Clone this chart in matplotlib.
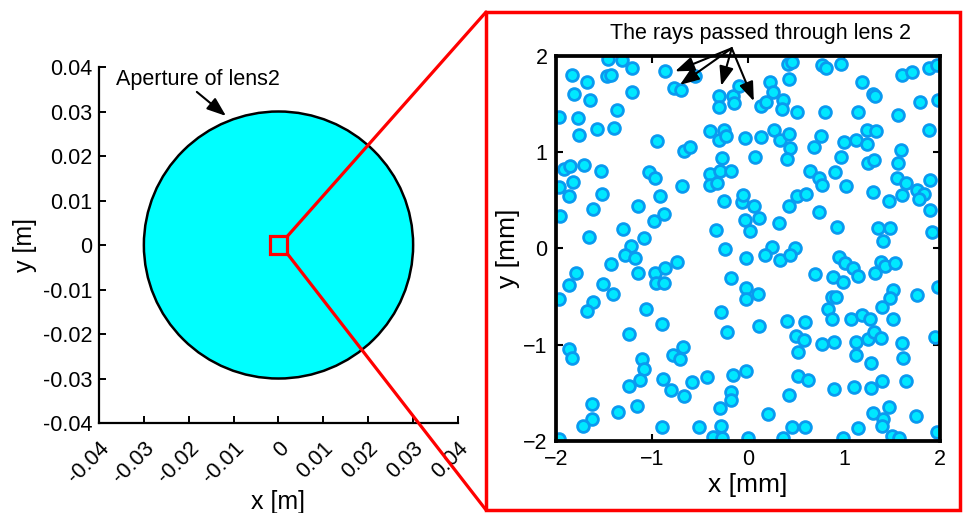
import numpy as np
import matplotlib
matplotlib.use('Agg')
import matplotlib.pyplot as plt
from matplotlib.patches import Circle, Rectangle, ConnectionPatch
from matplotlib.transforms import ScaledTranslation

plt.rcParams['font.family'] = ['Liberation Sans', 'DejaVu Sans']
plt.rcParams['font.size'] = 15.5

# lens aperture (m) and zoom window half width (mm)
aperture_radius = 0.03
zoom_half_mm = 2.0

left_ticks = [-0.04, -0.03, -0.02, -0.01, 0, 0.01, 0.02, 0.03, 0.04]
left_labels = ['-0.04', '-0.03', '-0.02', '-0.01', '0', '0.01', '0.02', '0.03', '0.04']
right_ticks = [-2, -1, 0, 1, 2]

# ray hit positions inside the zoom window (mm)
ray_x = [
    -1.46, -1.31, -1.83, -1.68, -1.47, -1.43, -1.21, -0.86, -0.77, -0.70, -0.55,
    -1.81, -1.65, -1.21, -1.36, -1.97, -1.77, -1.76, -1.57, -1.40, -0.95, -0.67,
    -0.60, -0.30, -0.30, -0.16, -0.15, -0.09, -0.40, -0.25, -0.30, -0.23, -0.03,
    -1.92, -1.85, -1.71, -1.53, -1.82, -1.97, -1.86, -1.52, -1.03, -0.97, -0.92,
    -0.69, -0.27, -0.40, -0.29, -0.18, -0.40, -0.32, -0.25, -0.06, -0.05, -1.61,
    -1.96, -1.15, -0.98, -0.88, -1.30, -1.66, -1.08, -1.22, -0.33, -0.03, -0.24,
    0.42, 0.46, 0.77, 0.81, 0.97, 0.23, 0.43, 0.26, 0.13, 0.19, 0.36, 0.35, 0.51,
    0.80, 1.15, 1.19, 1.30, 1.32, 1.60, 1.71, 1.88, 1.97, 1.79, 1.98, 1.56, 1.88,
    0.14, 0.27, 0.33, 0.43, 0.44, 0.41, 0.07, 0.76, 0.69, 1.00, 1.12, 1.24, 1.33,
    1.24, 0.97, 1.25, 1.31, 1.59, 1.56, 0.64, 0.74, 0.77, 0.91, 1.02, 1.30, 1.55,
    1.65, 1.60, 1.76, 1.83, 1.78, 1.89, 1.47, 0.06, 0.11, 0.02, 0.32, 0.51, 0.60,
    0.43, 0.74, 0.93, 1.35, 1.48, 1.41, 1.90, 1.92, 0.25, 0.49,
    -1.28, -1.18, -1.43, -1.79, -1.87, -1.97, -1.51, -1.41, -1.15, -0.97, -0.87,
    -0.96, -0.88, -0.74, -0.18, -0.02, -0.02, -0.02, -1.61, -1.68, -1.06, -0.90,
    -1.24, -0.28, -0.22, -1.87, -1.83, -1.10, -1.08, -1.13, -1.24, -0.78, -0.71,
    -0.68, -0.89, -0.80, -0.67, -0.58, -0.43, -0.16, -0.18, -0.18, -0.02, -1.63,
    -1.63, -1.72, -1.35, -1.16, -0.90, -0.51, -0.29, -0.28, -0.36, -0.27, -1.97,
    0.18, 0.33, 0.44, 0.70, 0.95, 1.01, 1.09, 1.14, 0.88, 0.99, 1.32, 1.38, 1.43,
    1.53, 0.10, 0.87, 0.92, 0.83, 0.87, 1.07, 1.19, 1.27, 1.51, 1.48, 1.40, 1.51,
    1.76, 1.98, 0.41, 0.59, 0.11, 0.50, 0.58, 0.77, 0.89, 1.12, 1.25, 1.31, 1.38,
    1.60, 1.95, 0.52, 1.12, 1.28, 1.61, 0.52, 0.62, 0.89, 1.10, 1.28, 1.39, 1.65,
    0.43, 0.21, 0.46, 0.59, 1.14, 1.30, 1.47, 1.41, 1.39, 1.75, 1.97, 0.00, 0.36,
    0.99, 1.50, 1.57,
]
ray_y = [
    1.97, 1.96, 1.80, 1.73, 1.79, 1.80, 1.87, 1.84, 1.67, 1.65, 1.79,
    1.60, 1.54, 1.63, 1.44, 1.37, 1.36, 1.18, 1.24, 1.25, 1.12, 1.01,
    1.05, 1.58, 1.47, 1.58, 1.51, 1.69, 1.22, 1.23, 1.13, 1.17, 1.15,
    0.83, 0.86, 0.87, 0.81, 0.69, 0.64, 0.55, 0.57, 0.79, 0.73, 0.54,
    0.65, 0.94, 0.77, 0.80, 0.81, 0.66, 0.68, 0.49, 0.48, 0.56, 0.41,
    0.34, 0.44, 0.29, 0.36, 0.20, 0.12, 0.11, 0.03, 0.19, 0.30, -0.01,
    1.92, 1.94, 1.91, 1.88, 1.92, 1.73, 1.76, 1.63, 1.48, 1.52, 1.54, 1.45, 1.42,
    1.42, 1.42, 1.73, 1.60, 1.58, 1.80, 1.83, 1.88, 1.91, 1.52, 1.54, 1.39, 1.23,
    1.16, 1.23, 1.13, 1.19, 1.04, 0.93, 0.95, 1.17, 1.05, 1.11, 1.13, 1.23, 1.22,
    1.09, 0.95, 0.89, 0.92, 1.02, 0.89, 0.80, 0.73, 0.66, 0.79, 0.65, 0.59, 0.73,
    0.68, 0.56, 0.61, 0.57, 0.51, 0.71, 0.49, 0.44, 0.32, 0.18, 0.26, 0.54, 0.57,
    0.44, 0.38, 0.22, 0.21, 0.21, 0.08, 0.40, 0.17, 0.02, 0.00,
    -0.07, -0.10, -0.16, -0.25, -0.38, -0.52, -0.37, -0.47, -0.26, -0.26, -0.20,
    -0.36, -0.36, -0.14, -0.31, -0.10, -0.41, -0.53, -0.56, -0.65, -0.63, -0.78,
    -0.89, -0.66, -0.87, -1.04, -1.14, -1.15, -1.25, -1.37, -1.43, -1.11, -1.15,
    -1.02, -1.36, -1.47, -1.53, -1.39, -1.34, -1.31, -1.49, -1.57, -1.27, -1.62,
    -1.77, -1.84, -1.70, -1.64, -1.85, -1.86, -1.66, -1.84, -1.96, -1.97, -1.98,
    -0.07, -0.12, -0.07, -0.27, -0.09, -0.15, -0.20, -0.29, -0.30, -0.35, -0.26, -0.14, -0.18,
    -0.15, -0.47, -0.50, -0.50, -0.63, -0.73, -0.73, -0.69, -0.73, -0.43, -0.51, -0.61, -0.73,
    -0.48, -0.40, -0.75, -0.76, -0.81, -0.91, -0.95, -0.99, -0.97, -0.97, -0.94, -0.87, -0.93,
    -0.98, -0.92, -1.08, -1.11, -1.19, -1.14, -1.33, -1.37, -1.46, -1.44, -1.45, -1.38, -1.38,
    -1.52, -1.72, -1.85, -1.85, -1.87, -1.71, -1.65, -1.77, -1.84, -1.74, -1.91, -1.97, -1.97,
    -1.97, -1.95, -1.97,
]

# annotation arrows (mm): start point and the marked rays
arrow_start = (-0.17, 2.08)
arrow_tips_x = [-0.76, -0.71, -0.28, 0.06]
arrow_tips_y = [1.84, 1.70, 1.69, 1.53]

fig = plt.figure(figsize=(9.63, 5.13), dpi=100)
head = '-|>,head_length=0.75,head_width=0.28'

# ---- left: whole aperture
ax1 = fig.add_axes([0.1028, 0.1754, 0.3728, 0.694])
ax1.add_patch(Circle((0, 0), aperture_radius, facecolor='#00FFFF',
                     edgecolor='black', lw=1.8, zorder=2))
zh = zoom_half_mm / 1000
ax1.add_patch(Rectangle((-zh, -zh), 2 * zh, 2 * zh, fill=False,
                        edgecolor='red', lw=2.3, zorder=3))
ax1.set_xlim(-0.04, 0.04)
ax1.set_ylim(-0.04, 0.04)
ax1.spines['top'].set_visible(False)
ax1.spines['right'].set_visible(False)
for s in ['left', 'bottom']:
    ax1.spines[s].set_linewidth(1.6)
ax1.set_yticks(left_ticks)
ax1.set_yticklabels(left_labels)
ax1.set_xticks(left_ticks)
ax1.set_xticklabels(left_labels, rotation=45, ha='right', va='center',
                    rotation_mode='anchor')
ax1.tick_params(direction='in', length=5, width=1.4, labelsize=15.5)
ax1.tick_params(axis='x', pad=16)
ax1.tick_params(axis='y', pad=5)
shift = ScaledTranslation(0.07, 0, fig.dpi_scale_trans)
for lab in ax1.get_xticklabels():
    lab.set_transform(lab.get_transform() + shift)
ax1.set_xlabel('x [m]', fontsize=18, labelpad=2)
ax1.set_ylabel('y [m]', fontsize=18, labelpad=4)
ax1.annotate('', xy=(-0.0117, 0.0290), xytext=(-0.0182, 0.0344),
             arrowprops=dict(arrowstyle=head, color='black', lw=1.5,
                             shrinkA=0, shrinkB=0))
ax1.text(-0.0362, 0.0372, 'Aperture of lens2', ha='left', va='center', fontsize=15.5)

# ---- right: zoomed window
ax2 = fig.add_axes([0.5774, 0.1404, 0.3988, 0.7505])
ax2.scatter(ray_x, ray_y, s=72, facecolor='#00E8FF', edgecolors='#0A9AF0',
            linewidths=2.0, zorder=2)
ax2.set_xlim(-zoom_half_mm, zoom_half_mm)
ax2.set_ylim(-zoom_half_mm, zoom_half_mm)
ax2.set_xticks(right_ticks)
ax2.set_yticks(right_ticks)
for s in ax2.spines.values():
    s.set_linewidth(2.7)
    s.set_zorder(4)
ax2.tick_params(direction='in', length=5, width=1.5, top=True, right=True,
                labelsize=15.5, pad=6)
ax2.set_xlabel('x [mm]', fontsize=19, labelpad=2)
ax2.set_ylabel('y [mm]', fontsize=19, labelpad=2)
ax2.text(0.125, 2.23, 'The rays passed through lens 2', ha='center', va='center',
         fontsize=15.5)
for tx, ty in zip(arrow_tips_x, arrow_tips_y):
    ax2.annotate('', xy=(tx, ty), xytext=arrow_start, annotation_clip=False,
                 arrowprops=dict(arrowstyle=head, color='black', lw=1.5,
                                 shrinkA=0, shrinkB=0))

# ---- red frame and connector lines
frame = (0.5047, 0.0058, 0.9969 - 0.5047, 0.9766 - 0.0058)
fig.add_artist(Rectangle(frame[:2], frame[2], frame[3], transform=fig.transFigure,
                         fill=False, edgecolor='red', lw=2.5))
for corner_y, fig_y in [(zh, frame[1] + frame[3]), (-zh, frame[1])]:
    con = ConnectionPatch(xyA=(zh, corner_y), coordsA=ax1.transData,
                          xyB=(frame[0], fig_y), coordsB=fig.transFigure,
                          color='red', lw=2.3)
    fig.add_artist(con)

fig.savefig('out.png', dpi=100)
